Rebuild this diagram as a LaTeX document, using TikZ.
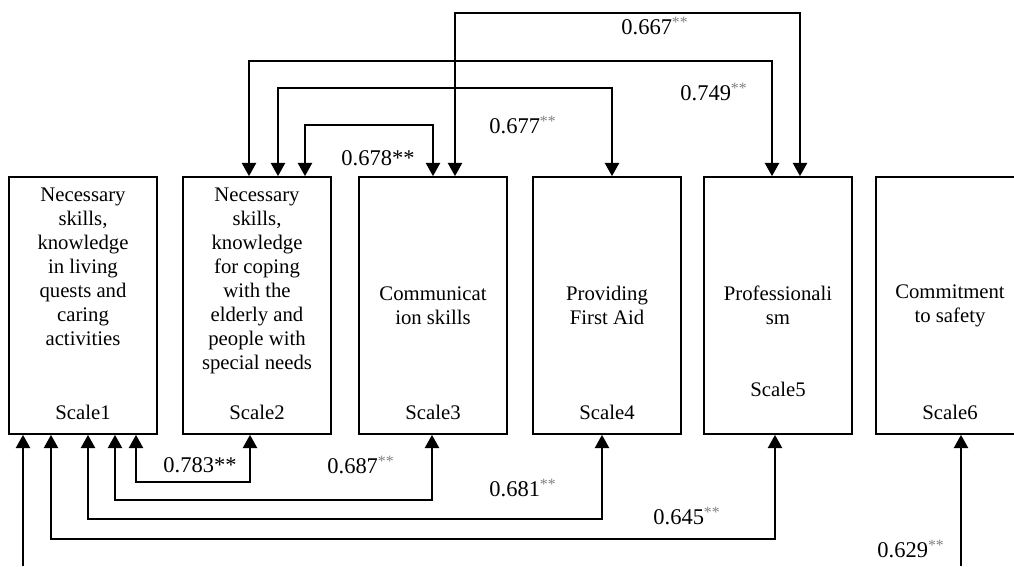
\documentclass[tikz,border=0pt]{standalone}
\usepackage{fontspec}
\setmainfont{Liberation Serif}
\usepackage{xcolor}
\usetikzlibrary{arrows.meta,positioning}
\definecolor{stargray}{HTML}{808080}
\newcommand{\corr}[1]{#1\textsuperscript{\color{stargray}**}}
\tikzset{
    scalebox/.style={
        rectangle, draw, line width=1pt,
        minimum width=2.96cm, minimum height=5.14cm,
        inner sep=0pt
    },
    boxtext/.style={align=center, font=\fontsize{11.8}{13.6}\selectfont},
    coef/.style={font=\fontsize{12.8}{14}\selectfont, inner sep=1pt},
    link/.style={{Triangle[width=8pt,length=7.5pt]}-{Triangle[width=8pt,length=7.5pt]}, line width=1.2pt},
    onelink/.style={-{Triangle[width=8pt,length=7.5pt]}, line width=1.2pt},
}

\begin{document}
\begin{tikzpicture}[x=0.02cm, y=-0.02cm]
    \path[use as bounding box, clip] (0,0) rectangle (1014,566);

    % Scale boxes
    \node[scalebox] (s1) at (83,305.5) {};
    \node[scalebox] (s2) at (257,305.5) {};
    \node[scalebox] (s3) at (433,305.5) {};
    \node[scalebox] (s4) at (607,305.5) {};
    \node[scalebox] (s5) at (778,305.5) {};
    \node[scalebox] (s6) at (950,305.5) {};

    % Box texts
    \node[boxtext, below=0.12cm of s1.north] (t1)
        {Necessary\\skills,\\knowledge\\in living\\quests and\\caring\\activities};
    \node[boxtext, below=0.12cm of s2.north] (t2)
        {Necessary\\skills,\\knowledge\\for coping\\with the\\elderly and\\people with\\special needs};
    \node[boxtext] (t3) at (s3.center) {Communicat\\ion skills};
    \node[boxtext] (t4) at (s4.center) {Providing\\First Aid};
    \node[boxtext] (t5) at (s5.center) {Professionali\\sm};
    \node[boxtext] (t6) at (s6.center) {Commitment\\to safety};

    \node[boxtext, above=0.18cm of s1.south] (c1) {Scale1};
    \node[boxtext, above=0.18cm of s2.south] (c2) {Scale2};
    \node[boxtext, above=0.18cm of s3.south] (c3) {Scale3};
    \node[boxtext, above=0.18cm of s4.south] (c4) {Scale4};
    \node[boxtext, above=0.64cm of s5.south] (c5) {Scale5};
    \node[boxtext, above=0.18cm of s6.south] (c6) {Scale6};

    % Links above the boxes
    \draw[link] ([xshift=0.44cm]s3.north) -- ++(0,-163) -| ([xshift=0.44cm]s5.north);
    \draw[link] ([xshift=-0.16cm]s2.north) -- ++(0,-115) -| ([xshift=-0.12cm]s5.north);
    \draw[link] ([xshift=0.42cm]s2.north) -- ++(0,-88) -| ([xshift=0.1cm]s4.north);
    \draw[link] ([xshift=0.96cm]s2.north) -- ++(0,-51) -| (s3.north);

    % Links below the boxes
    \draw[link] ([xshift=1.06cm]s1.south) -- ++(0,47) -| ([xshift=-0.14cm]s2.south);
    \draw[link] ([xshift=0.64cm]s1.south) -- ++(0,65) -| ([xshift=-0.02cm]s3.south);
    \draw[link] ([xshift=0.1cm]s1.south) -- ++(0,84) -| ([xshift=-0.1cm]s4.south);
    \draw[link] ([xshift=-0.64cm]s1.south) -- ++(0,104) -| ([xshift=-0.06cm]s5.south);

    \coordinate (b1) at (23,566);
    \coordinate (b6) at (961,566);
    \draw[onelink] (b1) -- (b1 |- s1.south);
    \draw[onelink] (b6) -- (b6 |- s6.south);

    % Coefficients
    \node[coef] (k667) at (655,26) {\corr{0.667}};
    \node[coef] (k749) at (714,92) {\corr{0.749}};
    \node[coef] (k677) at (523,125) {\corr{0.677}};
    \node[coef] (k678) at (378,158) {0.678**};
    \node[coef] (k783) at (200,465) {0.783**};
    \node[coef] (k687) at (361,465) {\corr{0.687}};
    \node[coef] (k681) at (523,488) {\corr{0.681}};
    \node[coef] (k645) at (687,516) {\corr{0.645}};
    \node[coef] (k629) at (911,549) {\corr{0.629}};

\end{tikzpicture}
\end{document}
